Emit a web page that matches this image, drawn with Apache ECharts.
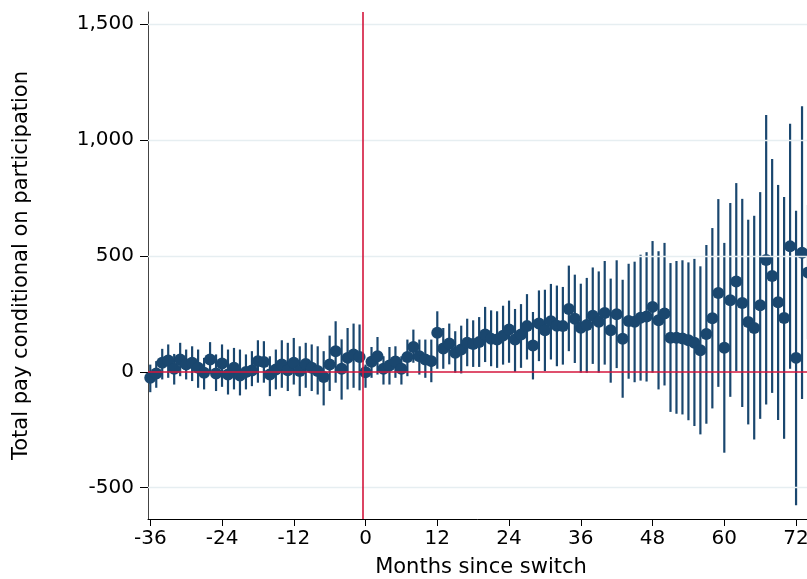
<!DOCTYPE html>
<html>
<head>
<meta charset="utf-8">
<script src="https://cdn.jsdelivr.net/npm/echarts@6/dist/echarts.min.js"></script>
<style>
  html, body { margin: 0; padding: 0; background: #fff; }
  #chart { width: 807px; height: 579px; }
</style>
</head>
<body>
<div id="chart"></div>
<script>
// months since switch
var months = [
    -36, -35, -34, -33, -32, -31, -30, -29, -28, -27, -26, -25, -24, -23, -22, -21, -20, -19,
    -18, -17, -16, -15, -14, -13, -12, -11, -10, -9, -8, -7, -6, -5, -4, -3, -2, -1,
    0, 1, 2, 3, 4, 5, 6, 7, 8, 9, 10, 11, 12, 13, 14, 15, 16, 17,
    18, 19, 20, 21, 22, 23, 24, 25, 26, 27, 28, 29, 30, 31, 32, 33, 34, 35,
    36, 37, 38, 39, 40, 41, 42, 43, 44, 45, 46, 47, 48, 49, 50, 51, 52, 53,
    54, 55, 56, 57, 58, 59, 60, 61, 62, 63, 64, 65, 66, 67, 68, 69, 70, 71,
    72, 73, 74
];
// point estimates
var estimate = [
    -26, -7, 39, 49, 13, 53, 31, 39, 17, -4, 53, -7, 36, -12, 17, -16, -1, 6,
    46, 42, -12, 10, 31, 7, 39, 3, 34, 17, 3, -22, 31, 89, 13, 60, 75, 64,
    -2, 43, 67, 13, 27, 44, 13, 64, 107, 67, 53, 46, 168, 100, 122, 82, 96, 125,
    120, 128, 161, 142, 139, 156, 182, 139, 161, 197, 113, 208, 179, 218, 199, 197, 271, 229,
    190, 202, 242, 216, 254, 179, 248, 143, 219, 216, 233, 239, 280, 222, 251, 147, 147, 144,
    136, 125, 93, 163, 231, 340, 104, 309, 389, 297, 215, 189, 287, 482, 413, 300, 232, 541,
    60, 513, 428
];
// 95% confidence bounds
var ciLow = [
    -88, -69, -33, -26, -55, -19, -33, -40, -69, -76, -7, -83, -65, -98, -76, -102, -76, -62,
    -47, -47, -105, -76, -69, -83, -55, -105, -69, -83, -98, -145, -83, -47, -120, -76, -69, -80,
    -69, -26, -12, -55, -55, -26, -55, -19, 39, -12, -26, -45, 13, 13, 32, -4, -7, 24,
    21, 21, 42, 24, 17, 31, 39, 0, 17, 53, -33, 46, 3, 53, 24, 31, 89, 38,
    -4, -4, 34, -4, 31, -47, 16, -112, -30, -45, -38, -42, -4, -76, -59, -173, -181, -184,
    -209, -234, -270, -224, -158, -65, -349, -108, 3, -152, -227, -292, -203, -141, -91, -208, -289, 13,
    -576, -117, 140
];
var ciHigh = [
    31, 46, 99, 118, 77, 125, 96, 110, 96, 60, 128, 75, 118, 96, 103, 96, 75, 89,
    136, 132, 67, 96, 136, 125, 146, 110, 125, 118, 110, 89, 156, 218, 140, 189, 208, 204,
    31, 107, 150, 67, 107, 110, 67, 139, 182, 139, 139, 139, 261, 189, 208, 175, 199, 229,
    222, 236, 280, 265, 261, 285, 307, 271, 292, 335, 258, 351, 354, 379, 372, 366, 458, 419,
    380, 405, 450, 433, 478, 402, 481, 397, 466, 475, 505, 516, 564, 520, 556, 469, 478, 481,
    472, 487, 455, 547, 620, 745, 556, 728, 814, 746, 656, 673, 775, 1108, 918, 806, 754, 1070,
    695, 1145, 720
];
var xTicks = [-36, -24, -12, 0, 12, 24, 36, 48, 60, 72];
var yTicks = [-500, 0, 500, 1000, 1500];
var yGrid = [-500, 500, 1000, 1500];

var chartDom = document.getElementById('chart');
var myChart = echarts.init(chartDom);

var navy = '#1a476f';
var red = '#d4163c';
var fontName = 'DejaVu Sans';

var points = [];
var bars = [];
months.forEach(function (m, i) {
    points.push([m, estimate[i]]);
    bars.push([m, ciLow[i], ciHigh[i]]);
});

var option = {
    backgroundColor: '#fff',
    animation: false,
    grid: {
        left: 148,
        top: 12,
        bottom: 60,
        right: -7,  // plot runs past the right edge of the picture
        containLabel: false,
        outerBoundsMode: 'none'
    },
    xAxis: {
        type: 'value',
        min: -36.38,
        max: 75,
        name: 'Months since switch',
        nameLocation: 'middle',
        nameGap: 38,
        nameTextStyle: { color: '#000', fontSize: 21, fontFamily: fontName },
        axisLine: { show: true, onZero: false, lineStyle: { color: '#000', width: 1 } },
        axisTick: { show: true, length: 7, customValues: xTicks, lineStyle: { color: '#000' } },
        axisLabel: {
            customValues: xTicks,
            color: '#000',
            fontSize: 20,
            fontFamily: fontName,
            margin: 10
        },
        splitLine: { show: false }
    },
    yAxis: {
        type: 'value',
        min: -635,
        max: 1552,
        name: 'Total pay conditional on participation',
        nameLocation: 'middle',
        nameGap: 116,
        nameTextStyle: { color: '#000', fontSize: 21, fontFamily: fontName },
        axisLine: { show: true, onZero: false, lineStyle: { color: '#444', width: 1 } },
        axisTick: { show: true, length: 8, customValues: yTicks, lineStyle: { color: '#000' } },
        axisLabel: {
            customValues: yTicks,
            color: '#000',
            fontSize: 20,
            fontFamily: fontName,
            margin: 14,
            formatter: function (v) {
                return echarts.format.addCommas(v);
            }
        },
        splitLine: { show: false }
    },
    series: [
        {
            // light gridlines and the red reference lines
            type: 'line',
            data: [],
            silent: true,
            markLine: {
                silent: true,
                symbol: 'none',
                label: { show: false },
                animation: false,
                data: yGrid.map(function (v) {
                    return { yAxis: v, lineStyle: { color: '#e6eef1', width: 1.4, type: 'solid' } };
                }).concat([
                    { yAxis: 0, lineStyle: { color: red, width: 1.6, type: 'solid' } },
                    { xAxis: -0.5, lineStyle: { color: red, width: 1.6, type: 'solid' } }
                ])
            }
        },
        {
            type: 'custom',
            data: bars,
            silent: true,
            renderItem: function (params, api) {
                var top = api.coord([api.value(0), api.value(2)]);
                var bottom = api.coord([api.value(0), api.value(1)]);
                return {
                    type: 'line',
                    shape: { x1: top[0], y1: top[1], x2: bottom[0], y2: bottom[1] },
                    style: { stroke: navy, lineWidth: 2.2 }
                };
            },
            z: 3
        },
        {
            type: 'scatter',
            data: points,
            symbol: 'circle',
            symbolSize: 12,
            itemStyle: { color: navy, opacity: 1 },
            z: 4
        }
    ]
};

option && myChart.setOption(option);
new ResizeObserver(() => myChart.resize()).observe(chartDom);
</script>
</body>
</html>
